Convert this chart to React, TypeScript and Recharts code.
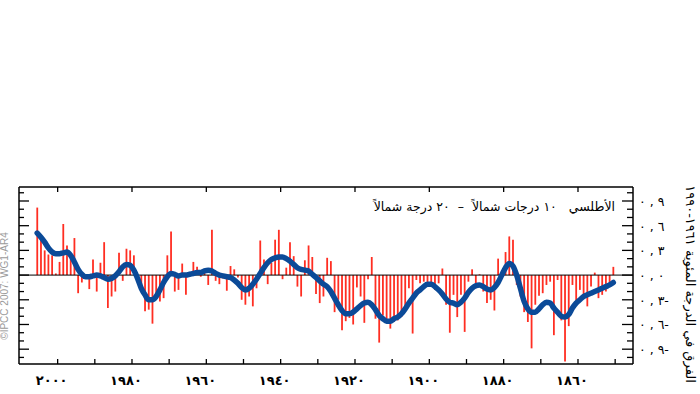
import React from 'react'
import { ComposedChart, Bar, Line, XAxis, YAxis, ReferenceLine } from 'recharts'

// annual values, newest first (2005 ... 1850)
const firstYear = 2005
const anomalies = [
  0.82, 0.45, 0.30, 0.25, 0.24, 0.02, 0.16, 0.62, 0.36, 0.20,
  0.45, -0.22, -0.09, -0.03, -0.17, 0.19, -0.20, 0.15, 0.40, -0.40,
  -0.26, -0.20, 0.27, -0.07, 0.32, 0.30, 0.24, -0.05, -0.12, -0.44,
  -0.42, -0.59, -0.24, -0.32, -0.28, 0.24, 0.53, -0.20, -0.18, 0.14,
  -0.24, -0.02, 0.16, 0.10, -0.02, 0.05, -0.12, 0.55, -0.07, -0.11,
  -0.04, -0.19, 0.11, 0.07, -0.03, -0.30, -0.36, -0.26, -0.38, -0.16,
  0.42, 0.19, -0.11, 0.15, 0.43, 0.55, -0.05, 0.09, 0.40, 0.23,
  -0.14, -0.26, 0.18, 0.36, 0.22, -0.23, -0.34, -0.26, 0.21, 0.17,
  -0.45, -0.30, -0.67, -0.56, -0.52, -0.60, -0.15, -0.26, -0.58, -0.05,
  0.22, -0.53, -0.82, -0.49, -0.57, -0.65, -0.57, -0.55, -0.51, -0.45,
  -0.16, -0.71, -0.06, -0.10, -0.08, -0.12, -0.12, -0.18, -0.10, 0.08,
  -0.36, -0.70, -0.24, -0.51, -0.24, -0.69, -0.08, 0.07, -0.16, 0.01,
  -0.20, -0.34, -0.30, -0.43, 0.20, 0.06, 0.28, 0.47, 0.43, -0.12,
  -0.26, -0.45, -0.57, -0.89, -0.36, -0.25, -0.22, -0.12, -0.08, -0.73,
  -0.06, -0.55, -1.05, -0.62, -0.12, -0.36, -0.18, -0.28, -0.38, -0.14,
  0.03, -0.28, -0.24, -0.20, -0.14, 0.10,
]
const smoothed = [
  0.51, 0.46, 0.40, 0.33, 0.28, 0.26, 0.26, 0.27, 0.28, 0.24,
  0.16, 0.07, 0.01, -0.02, -0.02, -0.01, 0.00, -0.01, -0.03, -0.05,
  -0.04, -0.01, 0.04, 0.10, 0.13, 0.12, 0.06, -0.04, -0.16, -0.24,
  -0.30, -0.30, -0.26, -0.18, -0.09, -0.02, 0.02, 0.01, -0.01, 0.00,
  0.00, 0.01, 0.02, 0.03, 0.03, 0.05, 0.06, 0.05, 0.02, 0.00,
  -0.01, -0.02, -0.03, -0.06, -0.10, -0.15, -0.18, -0.16, -0.11, -0.05,
  0.02, 0.09, 0.15, 0.19, 0.21, 0.22, 0.22, 0.20, 0.17, 0.13,
  0.09, 0.07, 0.06, 0.05, 0.01, -0.03, -0.07, -0.11, -0.14, -0.20,
  -0.28, -0.36, -0.43, -0.47, -0.47, -0.45, -0.41, -0.37, -0.34, -0.33,
  -0.36, -0.42, -0.49, -0.53, -0.56, -0.56, -0.53, -0.51, -0.47, -0.41,
  -0.34, -0.28, -0.22, -0.18, -0.14, -0.11, -0.11, -0.14, -0.18, -0.23,
  -0.29, -0.33, -0.34, -0.36, -0.33, -0.28, -0.21, -0.16, -0.13, -0.12,
  -0.14, -0.17, -0.18, -0.15, -0.09, 0.00, 0.09, 0.14, 0.11, 0.00,
  -0.16, -0.32, -0.41, -0.45, -0.45, -0.41, -0.36, -0.33, -0.34, -0.40,
  -0.45, -0.50, -0.51, -0.48, -0.40, -0.34, -0.30, -0.26, -0.24, -0.22,
  -0.20, -0.18, -0.16, -0.14, -0.12, -0.09,
]
const bottomTicks = [2000, 1990, 1980, 1970, 1960, 1950, 1940, 1930, 1920, 1910, 1900, 1890, 1880, 1870, 1860, 1850]
const topTicks = [2000, 1980, 1960, 1940, 1920, 1900, 1880, 1860]
const yTicks = [-1.0, -0.9, -0.8, -0.7, -0.6, -0.5, -0.4, -0.3, -0.2, -0.1, 0, 0.1, 0.2, 0.3, 0.4, 0.5, 0.6, 0.7, 0.8, 0.9, 1.0]

const title = 'الأطلسي   ١٠ درجات شمالاً  –  ٢٠ درجة شمالاً'
const yTitle = 'الفرق في الدرجة المئوية ١٩٦١-١٩٩٠'
const credit = '©IPCC 2007: WG1-AR4'

const W = 700
const H = 394
const PLOT_LEFT = 19
const PLOT_RIGHT = 633
const PLOT_TOP = 187
const PLOT_BOTTOM = 364
const AX = 1 // thickness given to each axis
const M = { top: PLOT_TOP - AX, right: W - PLOT_RIGHT - AX, bottom: H - PLOT_BOTTOM - AX, left: PLOT_LEFT - AX }
const FONT = '"DejaVu Sans", sans-serif'
const X_DOMAIN: [number, number] = [1845.2, 2010.4]
const Y_DOMAIN: [number, number] = [-1.08, 1.07]

const AR_DIGITS = '٠١٢٣٤٥٦٧٨٩'
const toArabic = (s: string) => s.replace(/[0-9]/g, d => AR_DIGITS[+d])

// bars sit at mid-year
const rows = anomalies.map((v, i) => ({
  x: firstYear - i + 0.5,
  anomaly: v,
  smooth: smoothed[i],
}))

const isMajor = (v: number) => Math.round(v * 10) % 3 === 0

function BottomTick(props: any) {
  const { x, payload } = props
  const v = payload.value as number
  return (
    <g>
      <line x1={x} x2={x} y1={PLOT_BOTTOM} y2={PLOT_BOTTOM - 5} stroke="#000" strokeWidth={1.3} />
      {v % 20 === 0 && (
        <text x={x - 6} y={PLOT_BOTTOM + 21} textAnchor="middle" fontFamily={FONT} fontSize={13}
          fontWeight="bold" letterSpacing={0.5} fill="#000">
          {toArabic(String(v))}
        </text>
      )}
    </g>
  )
}

function TopTick(props: any) {
  const { x } = props
  return <line x1={x} x2={x} y1={PLOT_TOP} y2={PLOT_TOP + 5} stroke="#000" strokeWidth={1.3} />
}

function LeftTick(props: any) {
  const { y, payload } = props
  const len = isMajor(payload.value) ? 10 : 5
  return <line x1={PLOT_LEFT} x2={PLOT_LEFT + len} y1={y} y2={y} stroke="#000" strokeWidth={1.3} />
}

function RightTick(props: any) {
  const { y, payload } = props
  const v = payload.value as number
  const major = isMajor(v)
  const digit = toArabic(String(Math.round(Math.abs(v) * 10)))
  const label = `٠ , ${digit}${v < 0 ? '-' : ''}`
  return (
    <g>
      <line x1={PLOT_RIGHT} x2={PLOT_RIGHT - (major ? 11 : 6)} y1={y} y2={y} stroke="#000" strokeWidth={1.3} />
      {major && Math.abs(v) < 0.95 && (
        <text x={PLOT_RIGHT + 6} y={y + 5} textAnchor="start" fontFamily={FONT} fontSize={12.5} fill="#000"
          style={{ direction: 'ltr', unicodeBidi: 'bidi-override' }}>
          {label}
        </text>
      )}
    </g>
  )
}

export default function App() {
  return (
    <div style={{ position: 'absolute', left: 0, top: 0, width: W, height: H, background: '#fff' }}>
      <ComposedChart width={W} height={H} data={rows} margin={M}>
        <XAxis xAxisId="b" dataKey="x" type="number" domain={X_DOMAIN} reversed allowDataOverflow
          ticks={bottomTicks} interval={0} height={AX} tickLine={false} tick={(p: any) => <BottomTick {...p} />}
          axisLine={{ stroke: '#000', strokeWidth: 1.5 }} />
        <XAxis xAxisId="t" orientation="top" dataKey="x" type="number" domain={X_DOMAIN} reversed allowDataOverflow
          ticks={topTicks} interval={0} height={AX} tickLine={false} tick={(p: any) => <TopTick {...p} />}
          axisLine={{ stroke: '#000', strokeWidth: 1.5 }} />
        <YAxis yAxisId="l" type="number" domain={Y_DOMAIN} allowDataOverflow ticks={yTicks} interval={0}
          width={AX} tickLine={false} tick={(p: any) => <LeftTick {...p} />}
          axisLine={{ stroke: '#000', strokeWidth: 1.5 }} />
        <YAxis yAxisId="r" orientation="right" type="number" domain={Y_DOMAIN} allowDataOverflow ticks={yTicks} interval={0}
          width={AX} tickLine={false} tick={(p: any) => <RightTick {...p} />}
          axisLine={{ stroke: '#000', strokeWidth: 1.5 }} />
        <ReferenceLine xAxisId="b" yAxisId="l" y={0} stroke="#000" strokeWidth={1} />
        <Bar xAxisId="b" yAxisId="l" dataKey="anomaly" fill="#ff2e22" barSize={1.8} isAnimationActive={false} />
        <Line xAxisId="b" yAxisId="l" dataKey="smooth" type="monotone" stroke="#0b4a98" strokeWidth={5.5}
          dot={false} activeDot={false} strokeLinecap="round" isAnimationActive={false} />
      </ComposedChart>
      <div dir="rtl" style={{
        position: 'absolute', right: W - 615, top: 199, fontFamily: FONT, fontSize: 12.5,
        whiteSpace: 'pre', color: '#000', lineHeight: '16px',
      }}>{title}</div>
      <div dir="rtl" style={{
        position: 'absolute', left: 690, top: 284, transform: 'translate(-50%, -50%) rotate(90deg)',
        fontFamily: FONT, fontSize: 13, whiteSpace: 'nowrap', color: '#000', lineHeight: '16px',
      }}>{yTitle}</div>
      <div style={{
        position: 'absolute', left: 5, top: 286, transform: 'translate(-50%, -50%) rotate(-90deg)',
        fontFamily: '"Liberation Sans", Arial, sans-serif', fontSize: 10, whiteSpace: 'nowrap', color: '#9a9a9a', lineHeight: '12px',
      }}>{credit}</div>
    </div>
  )
}
